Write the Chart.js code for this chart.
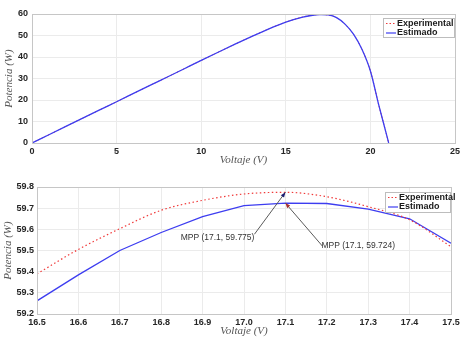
<!DOCTYPE html>
<html>
<head>
<meta charset="utf-8">
<script src="https://cdn.jsdelivr.net/npm/chart.js@4.4.0/dist/chart.umd.min.js"></script>
<style>
  html, body { margin: 0; padding: 0; background: #fff; }
  #wrap { position: relative; width: 468px; height: 342px; }
  canvas { position: absolute; left: 0; }
</style>
</head>
<body>
<div id="wrap">
  <canvas id="curvaPV" width="468" height="172" style="top:0"></canvas>
  <canvas id="zoomMPP" width="468" height="172" style="top:170px"></canvas>
</div>
<script>
// curva completa P-V
const topVolts = [0, 1, 2, 3, 4, 5, 6, 7, 8, 9, 10, 11, 12, 13, 14, 15, 16, 16.5, 17, 17.1, 17.5, 18, 18.5, 19, 19.5, 20, 20.5, 21, 21.08];
const topEst = [0, 3.85, 7.7, 11.55, 15.4, 19.2, 23.05, 26.9, 30.7, 34.55, 38.4, 42.2, 45.95, 49.6, 53.1, 56.2, 58.5, 59.3, 59.72, 59.724, 59.55, 58.3, 55.3, 50.6, 43.6, 33.5, 17.5, 2.5, 0];
const topExp = [0, 3.85, 7.7, 11.55, 15.4, 19.2, 23.05, 26.9, 30.7, 34.55, 38.4, 42.2, 45.95, 49.6, 53.1, 56.2, 58.6, 59.39, 59.767, 59.775, 59.52, 58.3, 55.3, 50.6, 43.6, 33.5, 17.5, 2.5, 0];
const topXTicks = [0, 5, 10, 15, 20, 25];
const topYTicks = [0, 10, 20, 30, 40, 50, 60];

// zoom alrededor del MPP
const botVolts = [16.5, 16.6, 16.7, 16.8, 16.9, 17.0, 17.1, 17.2, 17.3, 17.4, 17.5];
const botExp = [59.39, 59.505, 59.603, 59.69, 59.737, 59.767, 59.775, 59.754, 59.707, 59.645, 59.518];
const botEst = [59.262, 59.385, 59.5, 59.585, 59.66, 59.712, 59.724, 59.722, 59.695, 59.65, 59.534];
const botXTicks = [16.5, 16.6, 16.7, 16.8, 16.9, 17.0, 17.1, 17.2, 17.3, 17.4, 17.5];
const botYTicks = [59.2, 59.3, 59.4, 59.5, 59.6, 59.7, 59.8];

const mppExp = [17.1, 59.775];
const mppEst = [17.1, 59.724];

const RED = "#f03a3a";
const BLUE = "#3d3df0";
const tickFont = { family: "Liberation Sans, Arial", size: 9, weight: "bold" };
const titleFont = { family: "Liberation Serif, serif", size: 11, style: "italic" };

const pts = (xs, ys) => xs.map((x, i) => ({ x: x, y: ys[i] }));

// caja tipo matlab + leyenda
const boxPlugin = {
  id: "box",
  afterDraw(chart, args, opts) {
    const { ctx, chartArea: a } = chart;
    ctx.save();
    ctx.strokeStyle = "#c6c6c6";
    ctx.lineWidth = 1;
    ctx.strokeRect(a.left + 0.5, a.top + 0.5, a.right - a.left, a.bottom - a.top);

    // leyenda
    const lg = opts.legend;
    ctx.fillStyle = "#fff";
    ctx.fillRect(lg.x, lg.y, lg.w, lg.h);
    ctx.strokeStyle = "#bdbdbd";
    ctx.strokeRect(lg.x + 0.5, lg.y + 0.5, lg.w, lg.h);
    const rows = [
      { text: "Experimental", color: RED, dash: [1.5, 2] },
      { text: "Estimado", color: BLUE, dash: [] },
    ];
    ctx.font = "bold 9px Liberation Sans, Arial";
    ctx.textBaseline = "middle";
    rows.forEach((r, i) => {
      const y = lg.y + 5.5 + i * 9.5;
      ctx.beginPath();
      ctx.setLineDash(r.dash);
      ctx.strokeStyle = r.color;
      ctx.lineWidth = 1.2;
      ctx.moveTo(lg.x + 3, y);
      ctx.lineTo(lg.x + 13, y);
      ctx.stroke();
      ctx.setLineDash([]);
      ctx.fillStyle = "#1a1a1a";
      ctx.fillText(r.text, lg.x + 14, y);
    });
    ctx.restore();
  },
};

// flechas MPP
const mppPlugin = {
  id: "mpp",
  afterDraw(chart, args, opts) {
    if (!opts.items) return;
    const { ctx } = chart;
    const sx = chart.scales.x, sy = chart.scales.y;
    ctx.save();
    opts.items.forEach((it) => {
      const hx = sx.getPixelForValue(it.pt[0]);
      const hy = sy.getPixelForValue(it.pt[1]);
      const tx = hx + it.dx, ty = hy + it.dy;
      ctx.strokeStyle = "#5a5a5a";
      ctx.lineWidth = 1;
      ctx.beginPath();
      ctx.moveTo(tx, ty);
      ctx.lineTo(hx, hy);
      ctx.stroke();
      const ang = Math.atan2(hy - ty, hx - tx);
      ctx.fillStyle = it.head;
      ctx.beginPath();
      ctx.moveTo(hx, hy);
      ctx.lineTo(hx - 5 * Math.cos(ang) + 2 * Math.sin(ang), hy - 5 * Math.sin(ang) - 2 * Math.cos(ang));
      ctx.lineTo(hx - 5 * Math.cos(ang) - 2 * Math.sin(ang), hy - 5 * Math.sin(ang) + 2 * Math.cos(ang));
      ctx.closePath();
      ctx.fill();
      ctx.font = "8.5px Liberation Sans, Arial";
      ctx.fillStyle = "#333";
      ctx.textBaseline = "middle";
      ctx.textAlign = it.align;
      ctx.fillText("MPP (" + it.pt[0].toFixed(1) + ", " + it.pt[1].toFixed(3) + ")", tx + it.tdx, ty + it.tdy);
    });
    ctx.restore();
  },
};

function axes(xr, yr, xTicks, yTicks, yw, xh, xTitlePad, yTitlePad, yPad, digits) {
  return {
    x: {
      type: "linear",
      min: xr[0],
      max: xr[1],
      afterBuildTicks: (s) => { s.ticks = xTicks.map((v) => ({ value: v })); },
      afterFit: (s) => { s.height = xh; },
      grid: { color: "#ebebeb", drawTicks: false },
      border: { display: false },
      ticks: {
        font: tickFont,
        color: "#262626",
        padding: 3,
        maxRotation: 0,
        autoSkip: false,
        callback: (v) => v.toFixed(digits),
      },
      title: { display: true, text: "Voltaje (V)", font: titleFont, color: "#555", padding: { top: 0, bottom: xTitlePad } },
    },
    y: {
      min: yr[0],
      max: yr[1],
      afterBuildTicks: (s) => { s.ticks = yTicks.map((v) => ({ value: v })); },
      afterFit: (s) => { s.width = yw; },
      grid: { color: "#ebebeb", drawTicks: false },
      border: { display: false },
      ticks: {
        font: tickFont,
        color: "#262626",
        padding: yPad,
        autoSkip: false,
        callback: (v) => v.toFixed(digits),
      },
      title: { display: true, text: "Potencia (W)", font: titleFont, color: "#555", padding: { top: yTitlePad, bottom: 0 } },
    },
  };
}

const topChart = new Chart(document.getElementById("curvaPV").getContext("2d"), {
  type: "line",
  data: {
    datasets: [
      {
        label: "Estimado",
        data: pts(topVolts, topEst),
        borderColor: BLUE,
        borderWidth: 1.3,
        pointRadius: 0,
        cubicInterpolationMode: "monotone",
      },
      {
        label: "Experimental",
        data: pts(topVolts, topExp),
        borderColor: RED,
        borderWidth: 1,
        borderDash: [1.5, 2],
        pointRadius: 0,
        cubicInterpolationMode: "monotone",
        order: 1,
      },
    ],
  },
  options: {
    responsive: false,
    animation: false,
    layout: { padding: { left: 0, right: 13, top: 14, bottom: 0 } },
    plugins: {
      legend: { display: false },
      tooltip: { enabled: false },
      box: { legend: { x: 383, y: 18, w: 71, h: 19 } },
    },
    scales: axes([0, 25], [0, 60], topXTicks, topYTicks, 32, 29, 5, 3, 4, 0),
  },
  plugins: [boxPlugin, mppPlugin],
});

const botChart = new Chart(document.getElementById("zoomMPP").getContext("2d"), {
  type: "line",
  data: {
    datasets: [
      {
        label: "Experimental",
        data: pts(botVolts, botExp),
        borderColor: RED,
        borderWidth: 1.2,
        borderDash: [1.5, 2.5],
        pointRadius: 0,
        cubicInterpolationMode: "monotone",
      },
      {
        label: "Estimado",
        data: pts(botVolts, botEst),
        borderColor: BLUE,
        borderWidth: 1.3,
        pointRadius: 0,
      },
    ],
  },
  options: {
    responsive: false,
    animation: false,
    layout: { padding: { left: 0, right: 17, top: 17, bottom: 0 } },
    plugins: {
      legend: { display: false },
      tooltip: { enabled: false },
      box: { legend: { x: 385, y: 22, w: 65, h: 20 } },
      mpp: {
        items: [
          { pt: mppExp, dx: -31, dy: 42, head: "#1c1c70", align: "right", tdx: 0, tdy: 3 },
          { pt: mppEst, dx: 37, dy: 43, head: "#a83030", align: "left", tdx: -1, tdy: 0 },
        ],
      },
    },
    scales: axes([16.5, 17.5], [59.2, 59.8], botXTicks, botYTicks, 37, 28, 4, 2, 3, 1),
  },
  plugins: [boxPlugin, mppPlugin],
});
</script>
</body>
</html>
